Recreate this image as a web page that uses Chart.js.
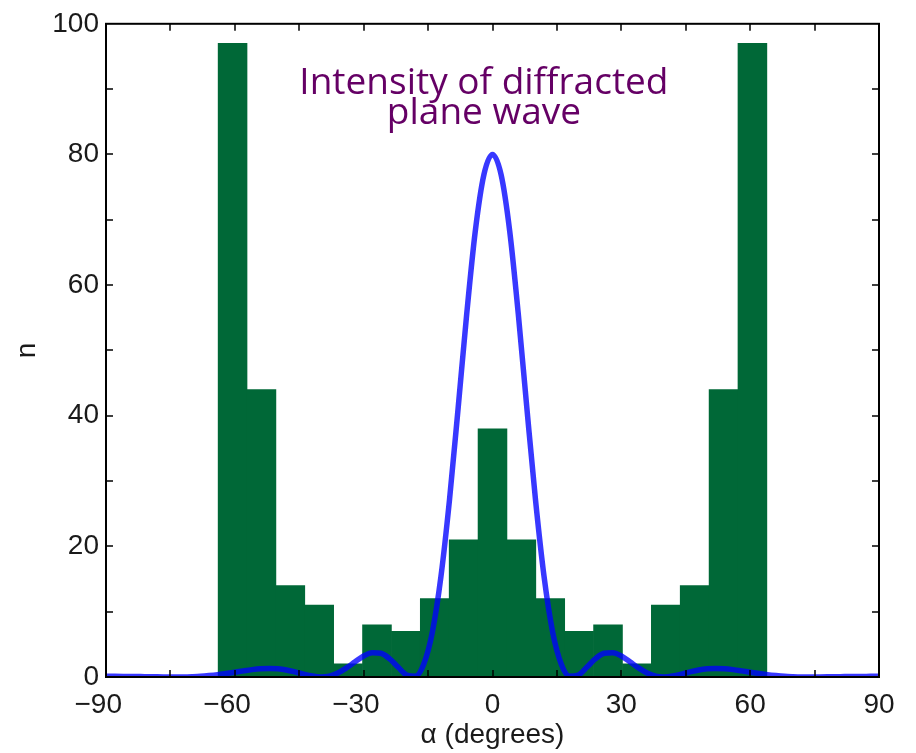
<!DOCTYPE html>
<html>
<head>
<meta charset="utf-8">
<script src="https://cdn.jsdelivr.net/npm/chart.js@4/dist/chart.umd.min.js"></script>
<style>
  html, body { margin: 0; padding: 0; background: #ffffff; }
  canvas { display: block; }
</style>
</head>
<body>
<canvas id="chart" width="916" height="753"></canvas>
<script>
// Histogram of counts n per angular bin (bin centres in degrees)
const binCenters = [-60.525, -53.8, -47.075, -40.35, -33.625, -26.9, -20.175, -13.45, -6.725, 0,
                    6.725, 13.45, 20.175, 26.9, 33.625, 40.35, 47.075, 53.8, 60.525];
const counts = [97, 44, 14, 11, 2, 8, 7, 12, 21, 38, 21, 12, 7, 8, 2, 11, 14, 44, 97];

// Intensity of the diffracted plane wave, sampled every 2 degrees
const curveAngles = [
  -90, -88, -86, -84, -82, -80, -78, -76, -74, -72, -70, -68, -66, -64, -62, -60,
  -58, -56, -54, -52, -50, -48, -46, -44, -42, -40, -38, -36, -34, -32, -30, -28,
  -26, -24, -22, -20, -18, -16, -14, -12, -10, -8, -6, -4, -2, 0,
  2, 4, 6, 8, 10, 12, 14, 16, 18, 20, 22, 24, 26, 28, 30, 32,
  34, 36, 38, 40, 42, 44, 46, 48, 50, 52, 54, 56, 58, 60, 62, 64,
  66, 68, 70, 72, 74, 76, 78, 80, 82, 84, 86, 88, 90
];
const curveIntensity = [
  0.11, 0.10, 0.09, 0.08, 0.06, 0.04, 0.02, 0.01, 0.0, 0.01, 0.05, 0.11, 0.22, 0.36, 0.54, 0.73,
  0.94, 1.13, 1.27, 1.31, 1.26, 1.08, 0.78, 0.43, 0.14, 0.0, 0.13, 0.61, 1.39, 2.33, 3.22, 3.73,
  3.63, 2.81, 1.52, 0.31, 0.11, 2.0, 6.9, 15.4, 27.2, 41.2, 55.6, 68.3, 76.9, 80,
  76.9, 68.3, 55.6, 41.2, 27.2, 15.4, 6.9, 2.0, 0.11, 0.31, 1.52, 2.81, 3.63, 3.73, 3.22, 2.33,
  1.39, 0.61, 0.13, 0.0, 0.14, 0.43, 0.78, 1.08, 1.26, 1.31, 1.27, 1.13, 0.94, 0.73, 0.54, 0.36,
  0.22, 0.11, 0.05, 0.01, 0.0, 0.01, 0.02, 0.04, 0.06, 0.08, 0.09, 0.10, 0.11
];

// Labelled ticks on each axis
const xTickLabels = [-90, -60, -30, 0, 30, 60, 90];
const yTickLabels = [0, 20, 40, 60, 80, 100];

const annotationLines = ['Intensity of diffracted', 'plane wave'];

// Negative labels keep their digits centred on the tick, the minus sign hangs to the left
function formatAngle(v) {
  return v < 0 ? '\u2212' + Math.abs(v) + '\u2007' : String(v);
}

// Draws inward tick marks on all four sides, the box and the annotation
const framePlugin = {
  id: 'frame',
  afterDatasetsDraw(chart, args, opts) {
    const { ctx, chartArea: a, scales: { x, y } } = chart;
    ctx.save();
    ctx.strokeStyle = '#000000';
    ctx.lineWidth = 1.5;
    const len = 7;
    ctx.beginPath();
    x.ticks.forEach(t => {
      const px = Math.round(x.getPixelForValue(t.value));
      if (px <= a.left + 1 || px >= a.right - 1) return;
      ctx.moveTo(px, a.bottom); ctx.lineTo(px, a.bottom - len);
      ctx.moveTo(px, a.top); ctx.lineTo(px, a.top + len);
    });
    y.ticks.forEach(t => {
      const py = Math.round(y.getPixelForValue(t.value));
      if (py <= a.top + 1 || py >= a.bottom - 1) return;
      ctx.moveTo(a.left, py); ctx.lineTo(a.left + len, py);
      ctx.moveTo(a.right, py); ctx.lineTo(a.right - len, py);
    });
    ctx.stroke();
    ctx.lineWidth = 2;
    ctx.strokeRect(a.left, a.top, a.right - a.left, a.bottom - a.top);

    ctx.fillStyle = opts.color;
    ctx.font = opts.font;
    ctx.textAlign = 'center';
    ctx.textBaseline = 'alphabetic';
    const cx = x.getPixelForValue(opts.x);
    opts.lines.forEach((line, i) => {
      ctx.fillText(line, cx, y.getPixelForValue(opts.y[i]));
    });
    ctx.restore();
  }
};

const tickFont = { family: '"Liberation Sans", Arial, sans-serif', size: 28 };

new Chart(document.getElementById('chart'), {
  type: 'bar',
  data: {
    datasets: [
      {
        type: 'line',
        label: 'Intensity',
        data: curveAngles.map((a, i) => ({ x: a, y: curveIntensity[i] })),
        borderColor: 'rgba(0, 0, 255, 0.78)',
        borderWidth: 5.5,
        pointRadius: 0,
        fill: false,
        cubicInterpolationMode: 'monotone',
        order: 0
      },
      {
        type: 'bar',
        label: 'n',
        data: binCenters.map((c, i) => ({ x: c, y: counts[i] })),
        backgroundColor: '#006837',
        borderWidth: 0,
        barPercentage: 1.0,
        categoryPercentage: 1.0,
        order: 1
      }
    ]
  },
  options: {
    responsive: false,
    animation: false,
    devicePixelRatio: 1,
    layout: { padding: { top: 20, right: 37, left: 0, bottom: 0 } },
    plugins: {
      legend: { display: false },
      tooltip: { enabled: false },
      frame: {
        lines: annotationLines,
        x: -2,
        y: [89.2, 84.6],
        color: '#650065',
        font: '37px "Open Sans", sans-serif'
      }
    },
    scales: {
      x: {
        type: 'linear',
        min: -90,
        max: 90,
        offset: false,
        grid: { display: false, drawTicks: false, offset: false },
        border: { display: false },
        ticks: {
          stepSize: 15,
          autoSkip: false,
          maxRotation: 0,
          padding: 11,
          color: '#1a1a1a',
          font: tickFont,
          callback: v => xTickLabels.includes(v) ? formatAngle(v) : ''
        },
        title: {
          display: true,
          text: '\u03b1 (degrees)',
          color: '#1a1a1a',
          font: { family: '"Liberation Sans", Arial, sans-serif', size: 28 },
          padding: { top: 0, bottom: 1 }
        },
        afterFit: s => { s.height = 76; }
      },
      y: {
        type: 'linear',
        min: 0,
        max: 100,
        grid: { display: false, drawTicks: false },
        border: { display: false },
        ticks: {
          stepSize: 10,
          autoSkip: false,
          padding: 7,
          color: '#1a1a1a',
          font: tickFont,
          callback: v => yTickLabels.includes(v) ? String(v) : ''
        },
        title: {
          display: true,
          text: 'n',
          color: '#1a1a1a',
          font: { family: '"Liberation Sans", Arial, sans-serif', size: 28 },
          padding: { top: 10, bottom: 0 }
        },
        afterFit: s => { s.width = 106; }
      }
    }
  },
  plugins: [framePlugin]
});
</script>
</body>
</html>
